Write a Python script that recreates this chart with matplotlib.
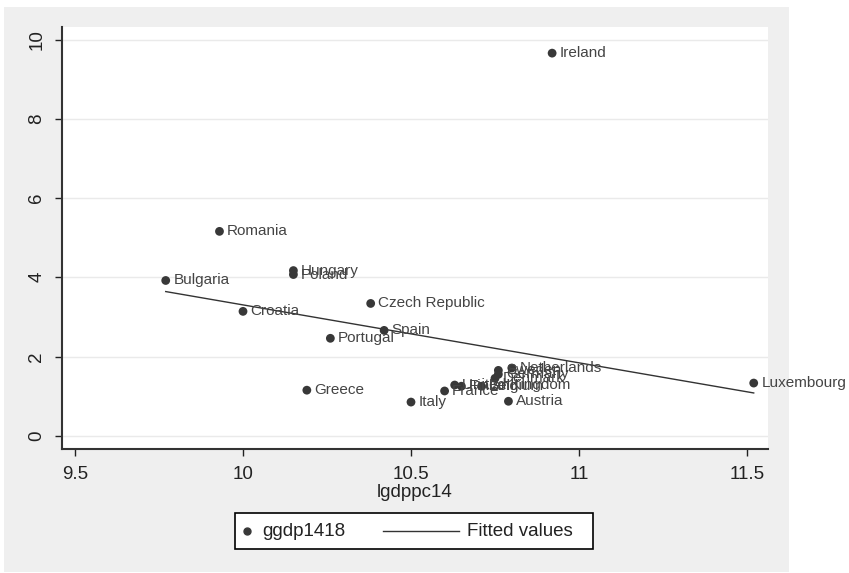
import numpy as np
import matplotlib
matplotlib.use('Agg')
import matplotlib.pyplot as plt
from matplotlib.patches import Rectangle
from matplotlib.lines import Line2D

# Log GDP per capita 2014 vs average growth 2014-18
countries = ['Ireland', 'Romania', 'Hungary', 'Poland', 'Bulgaria', 'Croatia',
             'Czech Republic', 'Spain', 'Portugal', 'Greece', 'Italy', 'France',
             'United Kingdom', 'Finland', 'Belgium', 'Denmark', 'Germany',
             'Sweden', 'Netherlands', 'Austria', 'Luxembourg']
lgdppc14 = [10.92, 9.93, 10.15, 10.15, 9.77, 10.00,
            10.38, 10.42, 10.26, 10.19, 10.50, 10.60,
            10.63, 10.65, 10.71, 10.75, 10.76,
            10.76, 10.80, 10.79, 11.52]
ggdp1418 = [9.66, 5.16, 4.17, 4.07, 3.92, 3.14,
            3.34, 2.66, 2.46, 1.15, 0.85, 1.13,
            1.28, 1.25, 1.25, 1.45, 1.55,
            1.65, 1.71, 0.87, 1.33]

# fitted values at the ends of the data range
fit_x = [9.77, 11.52]
fit_y = [3.64, 1.08]

xticks = [9.5, 10, 10.5, 11, 11.5]
xticklabels = ['9.5', '10', '10.5', '11', '11.5']
yticks = [0, 2, 4, 6, 8, 10]

W, H = 849, 573
plt.rcParams['font.family'] = ['Liberation Sans', 'DejaVu Sans']

fig = plt.figure(figsize=(W / 100, H / 100), dpi=100)
fig.patch.set_facecolor('white')

# light gray graph region behind the plot
fig.patches.append(Rectangle((4 / W, 1 / H), 785 / W, 565 / H,
                             transform=fig.transFigure, facecolor='#efefef',
                             edgecolor='none', zorder=-10))

ax = fig.add_axes([62 / W, 124 / H, 706 / W, 422 / H])
ax.set_facecolor('white')

ax.scatter(lgdppc14, ggdp1418, s=40, color='#383838', edgecolors='none',
           zorder=3)
for name, xi, yi in zip(countries, lgdppc14, ggdp1418):
    ax.annotate(name, (xi, yi), xytext=(5.5, 0), textcoords='offset points',
                ha='left', va='center', fontsize=11.0, color='#444444',
                annotation_clip=False, zorder=4)

ax.plot(fit_x, fit_y, color='#333333', lw=1.0, zorder=2)

ax.set_xlim(9.4613, 11.5625)
ax.set_ylim(-0.335, 10.32)
ax.set_xticks(xticks)
ax.set_xticklabels(xticklabels)
ax.set_yticks(yticks)
ax.set_yticklabels([str(t) for t in yticks], rotation=90, va='center')
ax.tick_params(axis='both', labelsize=13.5, colors='#222222', length=5,
               width=1.0, pad=7)
ax.yaxis.grid(True, color='#eaeaea', lw=1.0)
ax.set_axisbelow(True)
for side in ['top', 'right']:
    ax.spines[side].set_visible(False)
for side in ['left', 'bottom']:
    ax.spines[side].set_color('#333333')
    ax.spines[side].set_linewidth(1.5)

ax.set_xlabel('lgdppc14', fontsize=13.5, color='#222222', labelpad=1)

# legend box
fig.patches.append(Rectangle((235 / W, (H - 549) / H), 358 / W, 36 / H,
                             transform=fig.transFigure, facecolor='white',
                             edgecolor='black', lw=1.2, zorder=5))
ly = (H - 531) / H
fig.lines.append(Line2D([247 / W], [ly], transform=fig.transFigure,
                        marker='o', markersize=5, color='#383838', lw=0,
                        zorder=6))
fig.text(262 / W, ly, 'ggdp1418', fontsize=13.5, va='center', ha='left',
         color='#222222', zorder=6)
fig.lines.append(Line2D([383 / W, 459 / W], [ly, ly], transform=fig.transFigure,
                        color='#333333', lw=1.0, zorder=6))
fig.text(467 / W, ly, 'Fitted values', fontsize=13.5, va='center', ha='left',
         color='#222222', zorder=6)

fig.savefig('out.png', dpi=100)
